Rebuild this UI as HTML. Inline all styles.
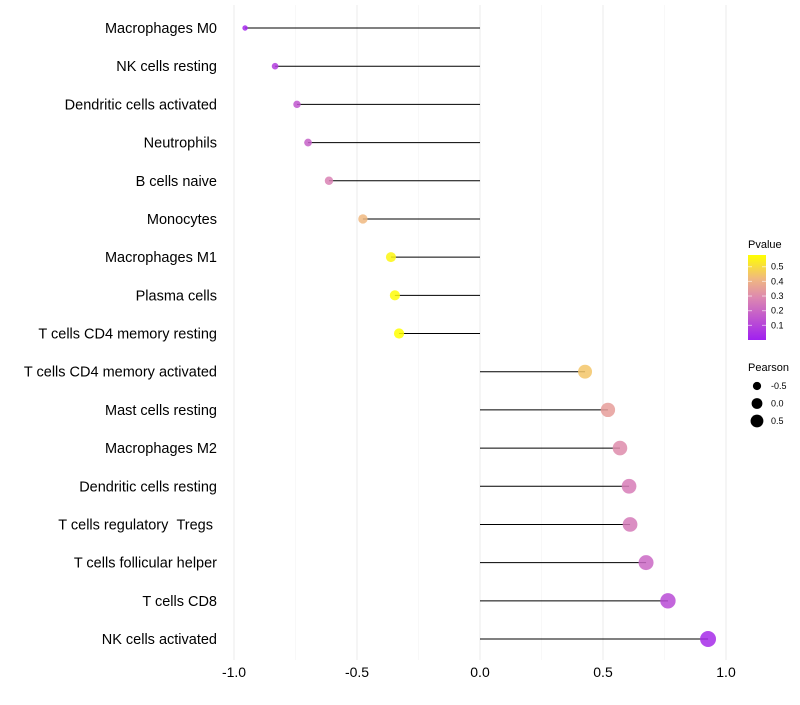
<!DOCTYPE html>
<html><head><meta charset="utf-8"><style>
body{margin:0;background:#fff;font-family:"Liberation Sans",sans-serif}
</style></head><body>
<svg id="c" width="800" height="700" xmlns="http://www.w3.org/2000/svg">
<defs><linearGradient id="pg" x1="0" y1="1" x2="0" y2="0">
<stop offset="0" stop-color="#a020f0"/><stop offset="0.5" stop-color="#dd88b0"/><stop offset="0.72" stop-color="#f0b880"/><stop offset="1" stop-color="#ffff00"/>
</linearGradient></defs>
</svg>
<script>
const categories=["Macrophages M0","NK cells resting","Dendritic cells activated","Neutrophils","B cells naive","Monocytes","Macrophages M1","Plasma cells","T cells CD4 memory resting","T cells CD4 memory activated","Mast cells resting","Macrophages M2","Dendritic cells resting","T cells regulatory \u00a0Tregs\u00a0","T cells follicular helper","T cells CD8","NK cells activated"];
const pearson=[-0.955,-0.833,-0.744,-0.699,-0.614,-0.476,-0.362,-0.346,-0.329,0.427,0.520,0.569,0.606,0.610,0.675,0.764,0.927];
const pvalue=[0.02,0.08,0.15,0.18,0.27,0.42,0.56,0.57,0.58,0.45,0.35,0.30,0.26,0.25,0.20,0.12,0.03];
const xTicks=[-1.0,-0.5,0.0,0.5,1.0];
const xTickLabels=["-1.0","-0.5","0.0","0.5","1.0"];
const legendP=[0.1,0.2,0.3,0.4,0.5];
const legendR=[-0.5,0.0,0.5];

const svg=document.getElementById('c');const NS="http://www.w3.org/2000/svg";
function mk(t,a,p){const e=document.createElementNS(NS,t);for(const k in a)e.setAttribute(k,a[k]);(p||svg).appendChild(e);return e;}
const xs=v=>480+v*246;
const ys=i=>28+i*(611/16);
const rs=p=>Math.sqrt(Math.max(3,36+30*p));
const stops=[[0,[160,32,240]],[0.29,[221,136,176]],[0.42,[240,184,128]],[0.58,[255,255,0]]];
function col(p){for(let i=1;i<stops.length;i++){if(p<=stops[i][0]||i==stops.length-1){const a=stops[i-1],b=stops[i];let t=Math.min(1,Math.max(0,(p-a[0])/(b[0]-a[0])));return 'rgb('+a[1].map((c,k)=>Math.round(c+(b[1][k]-c)*t)).join(',')+')';}}}
for(let v=-1;v<=1.001;v+=0.25){const maj=Math.abs(v*2-Math.round(v*2))<1e-6;const g=mk('line',{x1:xs(v),x2:xs(v),y1:5,y2:660,stroke:maj?'#ebebeb':'#f3f3f3','stroke-width':maj?1:0.6});

}
xTicks.forEach((v,i)=>{const t=mk('text',{x:xs(v),y:677,'text-anchor':'middle','font-size':14,fill:'#000'});t.textContent=xTickLabels[i];

});
categories.forEach((c,i)=>{const y=ys(i);
const t=mk('text',{x:217,y:y+5,'text-anchor':'end','font-size':14.5,fill:'#000'});t.textContent=c;


const l=mk('line',{x1:xs(0),x2:xs(pearson[i]),y1:y,y2:y,stroke:'#000','stroke-width':1});


const d=mk('circle',{cx:xs(pearson[i]),cy:y,r:rs(pearson[i]),fill:col(pvalue[i]),'fill-opacity':0.85});

});
let t=mk('text',{x:748,y:248,'font-size':11});t.textContent='Pvalue';


const gb=mk('rect',{x:748,y:255,width:18,height:85,fill:'url(#pg)'});


legendP.forEach(p=>{const y=340-p/0.58*85;
mk('line',{x1:748,x2:752,y1:y,y2:y,stroke:'#fff','stroke-opacity':0.6});mk('line',{x1:762,x2:766,y1:y,y2:y,stroke:'#fff','stroke-opacity':0.6});
const l=mk('text',{x:771,y:y+3,'font-size':9});l.textContent=p.toFixed(1);

});
t=mk('text',{x:748,y:371,'font-size':11});t.textContent='Pearson';


legendR.forEach((p,i)=>{const y=386+i*17.5;
const c=mk('circle',{cx:757,cy:y,r:rs(p)*0.9,fill:'#000'});


const l=mk('text',{x:771,y:y+3,'font-size':9});l.textContent=p.toFixed(1);

});
</script>
</body></html>
